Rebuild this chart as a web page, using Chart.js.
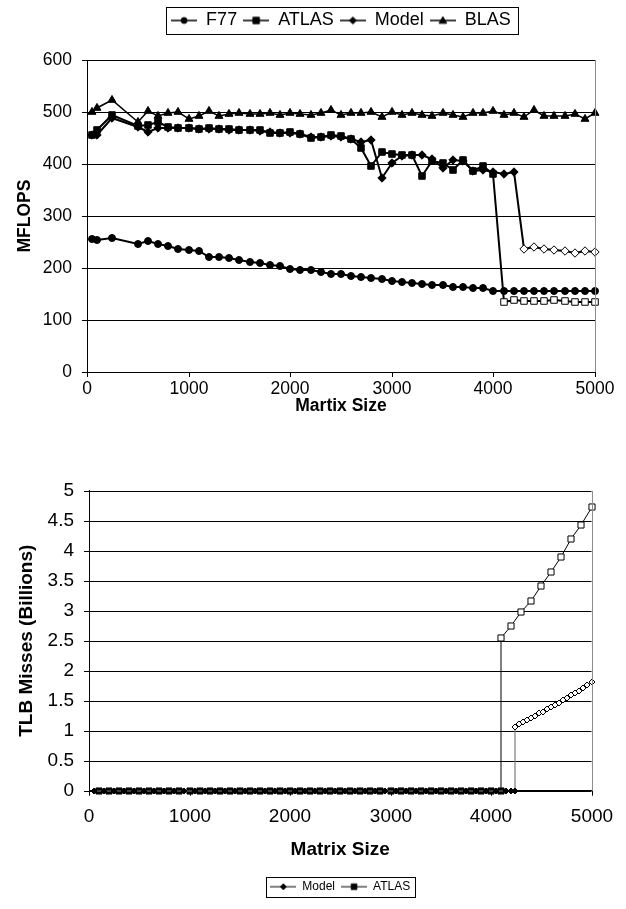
<!DOCTYPE html>
<html><head><meta charset="utf-8">
<script src="https://cdn.jsdelivr.net/npm/chart.js@4/dist/chart.umd.min.js"></script>
<style>
html,body{margin:0;padding:0;background:#fff;width:626px;height:909px;overflow:hidden;}
#c1{position:absolute;left:0;top:0;}
#c2{position:absolute;left:0;top:440px;}
</style></head><body>
<canvas id="c1" width="626" height="440"></canvas>
<canvas id="c2" width="626" height="469"></canvas>
<script>
// ---------- DATA: top chart (MFLOPS vs matrix size) ----------
const sizes = [50,100,250,500,600,700,800,900,1000,1100,1200,1300,1400,1500,1600,1700,1800,1900,2000,2100,2200,2300,2400,2500,2600,2700,2800,2900,3000,3100,3200,3300,3400,3500,3600,3700,3800,3900,4000,4100,4200,4300,4400,4500,4600,4700,4800,4900,5000];
const f77 = [256,254,258,247,251,247,242,237,234,232,222,222,219,216,212,210,206,203,199,197,196,192,189,188,185,183,180,178,175,173,171,170,168,167,164,163,162,162,156,156,156,156,155,155,155,155,155,156,156];
const atlas = [456,465,494,474,475,481,471,470,469,467,469,468,467,466,466,465,460,459,461,458,450,452,455,453,449,431,396,424,420,417,418,376,405,401,389,407,387,396,381,134,139,137,137,137,139,137,135,135,135];
const model = [455,455,488,472,461,470,470,470,469,467,468,467,466,466,466,464,461,460,460,457,451,451,454,452,449,442,447,374,402,415,418,418,410,392,408,405,386,389,384,381,384,237,240,237,234,233,229,233,231];
const blas = [500,507,523,481,501,493,498,500,487,493,501,493,496,498,497,497,498,494,498,496,494,498,504,495,498,498,500,490,500,494,498,494,492,498,495,490,498,498,501,495,498,490,503,492,492,492,496,487,499];
const atlasHollowFrom = 4100;
const modelHollowFrom = 4300;
const seriesNamesTop = ['F77','ATLAS','Model','BLAS'];
const xTicksTop = [0,1000,2000,3000,4000,5000];
const yTicksTop = [0,100,200,300,400,500,600];

// ---------- DATA: bottom chart (TLB misses, billions) ----------
const modelTlbSizes = [50,150,250,350,450,550,650,750,850,950,1050,1150,1250,1350,1450,1550,1650,1750,1850,1950,2050,2150,2250,2350,2450,2550,2650,2750,2850,2950,3050,3150,3250,3350,3450,3550,3650,3750,3850,3950,4050,4150,4200,4240,4240,4280,4320,4360,4400,4440,4480,4520,4560,4600,4640,4680,4720,4760,4800,4840,4880,4920,4960,5000];
const modelTlb = [0,0,0,0,0,0,0,0,0,0,0,0,0,0,0,0,0,0,0,0,0,0,0,0,0,0,0,0,0,0,0,0,0,0,0,0,0,0,0,0,0,0,0,0,1.07,1.11,1.14,1.18,1.21,1.25,1.29,1.32,1.36,1.40,1.43,1.47,1.51,1.55,1.59,1.63,1.67,1.71,1.76,1.81];
const atlasTlbSizes = [100,200,300,400,500,600,700,800,900,1000,1100,1200,1300,1400,1500,1600,1700,1800,1900,2000,2100,2200,2300,2400,2500,2600,2700,2800,2900,3000,3100,3200,3300,3400,3500,3600,3700,3800,3900,4000,4100,4100,4200,4300,4400,4500,4600,4700,4800,4900,5000];
const atlasTlb = [0,0,0,0,0,0,0,0,0,0,0,0,0,0,0,0,0,0,0,0,0,0,0,0,0,0,0,0,0,0,0,0,0,0,0,0,0,0,0,0,0,2.55,2.74,2.97,3.17,3.42,3.65,3.89,4.19,4.43,4.73];
const seriesNamesBottom = ['Model','ATLAS'];

// ---------- helpers ----------
const FONT = '"Liberation Sans", Arial, Helvetica, sans-serif';
Chart.defaults.font.family = FONT;
Chart.defaults.color = '#000';

function pts(xs, ys){ return xs.map((x,i)=>({x:x, y:ys[i]})); }

function legendIcon(shape, w, h, r, lineW, lineColor){
  const c = document.createElement('canvas'); c.width = w; c.height = h;
  const g = c.getContext('2d');
  const cy = h/2, cx = w/2;
  g.strokeStyle = lineColor; g.lineWidth = lineW;
  g.beginPath(); g.moveTo(0, cy); g.lineTo(w, cy); g.stroke();
  g.fillStyle = '#000'; g.strokeStyle = '#000'; g.lineWidth = 1;
  g.beginPath();
  if (shape === 'circle') g.arc(cx, cy, r, 0, Math.PI*2);
  else if (shape === 'rect') g.rect(cx-r, cy-r, 2*r, 2*r);
  else if (shape === 'rectRot') { g.moveTo(cx, cy-r); g.lineTo(cx+r, cy); g.lineTo(cx, cy+r); g.lineTo(cx-r, cy); g.closePath(); }
  else if (shape === 'triangle') { g.moveTo(cx, cy-r); g.lineTo(cx+r, cy+r*0.75); g.lineTo(cx-r, cy+r*0.75); g.closePath(); }
  g.fill(); g.stroke();
  return c;
}

const frame = {
  id: 'frame',
  afterDraw(chart, args, opts){
    const ctx = chart.ctx, a = chart.chartArea;
    ctx.save();
    ctx.strokeStyle = '#8c8c8c'; ctx.lineWidth = 1;
    const rx = Math.round(a.right) + 0.5;
    ctx.beginPath(); ctx.moveTo(rx, Math.round(a.top)); ctx.lineTo(rx, Math.round(a.bottom)); ctx.stroke();
    const hb = chart.legend && chart.legend.legendHitBoxes;
    if (hb && hb.length){
      const l = Math.min(...hb.map(h=>h.left)) - opts.padL;
      const r = Math.max(...hb.map(h=>h.left + h.width)) + opts.padR;
      const t = Math.min(...hb.map(h=>h.top)) - opts.padY;
      const b = Math.max(...hb.map(h=>h.top + h.height)) + opts.padY;
      ctx.strokeStyle = '#000';
      ctx.strokeRect(Math.round(l)+0.5, Math.round(t)+0.5, Math.round(r-l), Math.round(b-t));
    }
    ctx.restore();
  }
};

function hollowIfFrom(th){ return c => (c.raw && c.raw.x >= th) ? '#fff' : '#000'; }
function hollowIfPositive(c){ return (c.raw && c.raw.y > 0) ? '#fff' : '#000'; }

// ---------- top chart ----------
const topShapes = ['circle','rect','rectRot','triangle'];
const topRadii = [3.5, 4.6, 4.2, 4.6];
const topIcons = topShapes.map((s,i)=>legendIcon(s, 26, 12, [3,3.2,3.5,3.8][i], 1.5, '#000'));
const topSeries = [f77, atlas, model, blas];
const topHollow = [null, atlasHollowFrom, modelHollowFrom, null];

new Chart(document.getElementById('c1'), {
  type: 'line',
  data: {
    datasets: topSeries.map((ys,i)=>({
      label: seriesNamesTop[i],
      data: pts(sizes, ys),
      borderColor: '#000',
      borderWidth: i === 3 ? 1.5 : 2,
      pointStyle: topShapes[i],
      pointRadius: topRadii[i],
      pointBorderColor: '#000',
      pointBorderWidth: 1,
      pointBackgroundColor: topHollow[i] ? hollowIfFrom(topHollow[i]) : '#000',
      tension: 0,
      clip: false
    }))
  },
  options: {
    responsive: false, animation: false, events: [],
    layout: { padding: { top: 5.5, left: 0, right: 31, bottom: 18 } },
    plugins: {
      tooltip: { enabled: false },
      title: { display: true, text: '', position: 'top', weight: 500, font: { size: 10 }, padding: { top: 0, bottom: 8.5 } },
      legend: {
        position: 'top', fullSize: false,
        labels: {
          usePointStyle: true, pointStyleWidth: 26, padding: 6, color: '#000',
          font: { size: 18, family: FONT },
          generateLabels(chart){
            const items = Chart.defaults.plugins.legend.labels.generateLabels(chart);
            items.forEach((it,i)=>{ it.pointStyle = topIcons[i]; });
            return items;
          }
        }
      },
      frame: { padL: 5, padR: 7, padY: 4.5 }
    },
    scales: {
      x: {
        type: 'linear', min: 0, max: 5000, alignToPixels: true,
        afterBuildTicks: s => { s.ticks = xTicksTop.map(v=>({value:v})); },
        ticks: { font: { size: 17.5 }, color: '#000', padding: 2, maxRotation: 0, autoSkip: false, callback: v => String(v) },
        grid: { drawOnChartArea: false, color: '#000', tickColor: '#000', tickLength: 5 },
        border: { color: '#000', width: 1 },
        title: { display: true, text: 'Martix Size', color: '#000', font: { size: 17.5, weight: 'bold' }, padding: { top: 0, bottom: 5.5 } },
        afterFit: s => { s.height = 50; }
      },
      y: {
        type: 'linear', min: 0, max: 600, alignToPixels: true,
        afterBuildTicks: s => { s.ticks = yTicksTop.map(v=>({value:v})); },
        ticks: { font: { size: 17.5 }, color: '#000', padding: 10, callback: v => String(v) },
        grid: { color: '#000', tickColor: '#000', tickLength: 5, lineWidth: 1 },
        border: { color: '#000', width: 1 },
        title: { display: true, text: 'MFLOPS', color: '#000', font: { size: 17.5, weight: 'bold' }, padding: { top: 15, bottom: 0 } },
        afterFit: s => { s.width = 87; }
      }
    }
  },
  plugins: [frame]
});

// ---------- bottom chart ----------
const xTicksBottom = [0,1000,2000,3000,4000,5000];
const yTicksBottom = [0,0.5,1,1.5,2,2.5,3,3.5,4,4.5,5];
const bottomIcons = [legendIcon('rectRot', 26, 10, 3, 1, '#000'), legendIcon('rect', 26, 10, 2.8, 1, '#000')];

new Chart(document.getElementById('c2'), {
  type: 'line',
  data: {
    datasets: [
      {
        label: seriesNamesBottom[0],
        data: pts(modelTlbSizes, modelTlb),
        borderColor: '#7a7a7a', borderWidth: 1.2,
        pointStyle: 'rectRot', pointRadius: 3,
        pointBorderColor: '#000', pointBorderWidth: 1,
        pointBackgroundColor: hollowIfPositive,
        tension: 0, clip: false
      },
      {
        label: seriesNamesBottom[1],
        data: pts(atlasTlbSizes, atlasTlb),
        borderColor: '#000', borderWidth: 1,
        pointStyle: 'rect', pointRadius: 4.3,
        pointBorderColor: '#000', pointBorderWidth: 1,
        pointBackgroundColor: hollowIfPositive,
        tension: 0, clip: false
      }
    ]
  },
  options: {
    responsive: false, animation: false, events: [],
    layout: { padding: { top: 50.7, left: 0, right: 34.5, bottom: 6.3 } },
    plugins: {
      tooltip: { enabled: false },
      legend: {
        position: 'bottom', fullSize: false,
        labels: {
          usePointStyle: true, pointStyleWidth: 26, padding: 6, color: '#000',
          font: { size: 12, family: FONT },
          generateLabels(chart){
            const items = Chart.defaults.plugins.legend.labels.generateLabels(chart);
            items.forEach((it,i)=>{ it.pointStyle = bottomIcons[i]; });
            return items;
          }
        }
      },
      frame: { padL: 4, padR: 5, padY: 4 }
    },
    scales: {
      x: {
        type: 'linear', min: 0, max: 5000, alignToPixels: true,
        afterBuildTicks: s => { s.ticks = xTicksBottom.map(v=>({value:v})); },
        ticks: { font: { size: 19 }, color: '#000', padding: 10, maxRotation: 0, autoSkip: false, callback: v => String(v) },
        grid: { drawOnChartArea: false, color: '#000', tickColor: '#000', tickLength: 5 },
        border: { color: '#000', width: 1 },
        title: { display: true, text: 'Matrix Size', color: '#000', font: { size: 19, weight: 'bold' }, padding: { top: 0, bottom: 14 } },
        afterFit: s => { s.height = 84; }
      },
      y: {
        type: 'linear', min: 0, max: 5, alignToPixels: true,
        afterBuildTicks: s => { s.ticks = yTicksBottom.map(v=>({value:v})); },
        ticks: { font: { size: 19 }, color: '#000', padding: 10, callback: v => String(v) },
        grid: { color: '#000', tickColor: '#000', tickLength: 5, lineWidth: 1 },
        border: { color: '#000', width: 1 },
        title: { display: true, text: 'TLB Misses (Billions)', color: '#000', font: { size: 19, weight: 'bold' }, padding: { top: 15.3, bottom: 0 } },
        afterFit: s => { s.width = 89; }
      }
    }
  },
  plugins: [frame]
});
</script>
</body></html>
